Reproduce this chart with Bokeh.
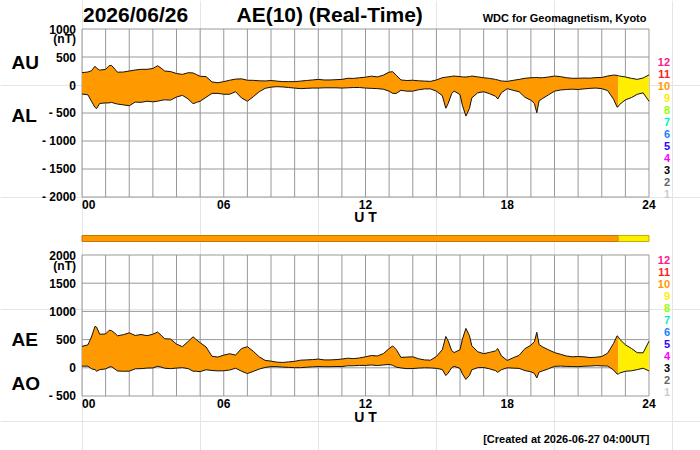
from bokeh.plotting import figure
from bokeh.models import Range1d, Label
from bokeh.core.properties import value
from bokeh.embed import file_html
from bokeh.resources import INLINE

# ---------------- data ----------------
ut_hours = [0.00, 0.25, 0.40, 0.55, 0.62, 0.75, 1.00, 1.15, 1.25, 1.40, 1.50, 1.75,
            2.00, 2.25, 2.50, 2.75, 3.00, 3.20, 3.35, 3.50, 3.75, 4.00, 4.25, 4.50,
            4.70, 4.85, 5.00, 5.25, 5.50, 5.75, 6.00, 6.25, 6.50, 6.75, 7.00, 7.25,
            7.50, 7.75, 8.00, 8.25, 8.50, 8.75, 9.00, 9.25, 9.50, 9.75, 10.00, 10.25,
            10.50, 10.75, 11.00, 11.25, 11.50, 11.75, 12.00, 12.25, 12.50, 12.75, 13.00, 13.15,
            13.30, 13.50, 13.75, 14.00, 14.25, 14.50, 14.75, 15.00, 15.25, 15.40, 15.50, 15.65,
            15.75, 16.00, 16.10, 16.25, 16.40, 16.50, 16.75, 17.00, 17.25, 17.50, 17.60, 17.75,
            18.00, 18.25, 18.50, 18.75, 19.00, 19.15, 19.25, 19.35, 19.50, 19.75, 20.00, 20.25,
            20.50, 20.75, 21.00, 21.25, 21.50, 21.75, 22.00, 22.25, 22.50, 22.65, 22.70, 22.75,
            23.00, 23.25, 23.50, 23.75, 24.00]

au_nt = [220, 232, 255, 335, 300, 265, 280, 345, 350, 280, 228, 232,
         250, 268, 280, 280, 295, 345, 300, 250, 240, 205, 190, 220,
         215, 185, 155, 150, 55, 40, 60, 85, 105, 110, 85, 83,
         75, 72, 80, 70, 60, 60, 60, 70, 80, 90, 100, 90,
         90, 95, 100, 120, 118, 130, 140, 158, 145, 175, 230, 238,
         175, 90, 80, 85, 75, 70, 65, 90, 130, 140, 145, 155,
         160, 150, 145, 143, 150, 160, 145, 130, 118, 100, 90, 72,
         65, 83, 100, 120, 130, 132, 135, 130, 130, 143, 160, 150,
         130, 120, 120, 125, 122, 132, 135, 160, 178, 172, 165, 160,
         143, 119, 101, 125, 180]

al_nt = [-160, -175, -290, -400, -420, -330, -320, -320, -310, -330, -340, -355,
         -370, -305, -310, -290, -300, -290, -275, -265, -270, -215, -185, -250,
         -335, -310, -290, -220, -150, -150, -165, -165, -120, -230, -290, -210,
         -120, -60, -38, -30, -35, -45, -55, -65, -60, -55, -55, -50,
         -50, -50, -55, -50, -45, -45, -55, -60, -65, -75, -110, -150,
         -150, -95, -110, -110, -85, -70, -70, -110, -190, -415, -330, -150,
         -110, -170, -360, -555, -420, -230, -140, -120, -155, -200, -250, -140,
         -65, -95, -120, -220, -270, -330, -495, -280, -240, -175, -110, -90,
         -80, -75, -80, -70, -60, -55, -65, -100, -255, -395, -385, -350,
         -265, -226, -167, -140, -290]

# number of contributing stations per time segment
seg_start = [0.0, 22.7]
seg_end = [22.7, 24.0]
seg_stations = [10, 9]

station_numbers = [12, 11, 10, 9, 8, 7, 6, 5, 4, 3, 2, 1]
station_colors = {12: "#ff1a8c", 11: "#ff2020", 10: "#ff9900", 9: "#ffee00",
                  8: "#99ff00", 7: "#00f0c0", 6: "#1a80ff", 5: "#3300ff",
                  4: "#ff00ff", 3: "#000000", 2: "#666666", 1: "#cccccc"}
station_border = {10: "#c77700", 9: "#c0b000"}

top_ticks = [1000, 500, 0, -500, -1000, -1500, -2000]
top_tick_labels = ["1000", "500", "0", "- 500", "- 1000", "- 1500", "- 2000"]
bot_ticks = [2000, 1500, 1000, 500, 0, -500]
bot_tick_labels = ["2000", "1500", "1000", "500", "0", "- 500"]
x_ticks = [0, 6, 12, 18, 24]
x_tick_labels = ["00", "06", "12", "18", "24"]
x_tick_align = ["left", "center", "center", "center", "center"]
hour_grid = list(range(25))

title_date = "2026/06/26"
title_main = "AE(10) (Real-Time)"
credit = "WDC for Geomagnetism, Kyoto"
created = "[Created at 2026-06-27 04:00UT]"

ae_nt = [u - l for u, l in zip(au_nt, al_nt)]
ao_nt = [(u + l) / 2 for u, l in zip(au_nt, al_nt)]

# ---------------- page geometry (pixel -> data helpers) ----------------
FONT = "Liberation Sans"
GRID = "#999999"
W, H = 700, 450

def hx(X):            # page x pixel -> UT hours
    return (X - 81.5) * 24 / 567

def vt(Y):            # page y pixel -> top panel nT
    return 1000 - (Y - 28.5) * 3000 / 168

def vb(Y):            # page y pixel -> bottom panel nT
    return 2000 - (Y - 254.5) * 2500 / 141

def vs(Y):            # page y pixel -> station bar units
    return (241 - Y) / 6

p = figure(width=W, height=H, output_backend="svg", toolbar_location=None,
           title=None,
           x_range=Range1d(hx(0), hx(W)), y_range=Range1d(vt(H), vt(0)),
           x_axis_location=None, y_axis_location=None, min_border=0,
           outline_line_color=None, background_fill_color="white",
           border_fill_color="white")
p.extra_y_ranges = {"bot": Range1d(vb(H), vb(0)), "strip": Range1d(vs(H), vs(0))}

def panel(ticks, labels, lo, hi, rname):
    kw = {} if rname is None else {"y_range_name": rname}
    ymin, ymax = min(ticks), max(ticks)
    # grid
    p.segment(x0=hour_grid, y0=ymin, x1=hour_grid, y1=ymax,
              line_color=GRID, line_width=1, **kw)
    p.segment(x0=0, y0=ticks, x1=24, y1=ticks, line_color=GRID, line_width=1, **kw)
    # band coloured by station count
    for s0, s1, n in zip(seg_start, seg_end, seg_stations):
        idx = [i for i, t in enumerate(ut_hours) if s0 <= t <= s1]
        p.varea(x=[ut_hours[i] for i in idx], y1=[lo[i] for i in idx],
                y2=[hi[i] for i in idx], fill_color=station_colors[n], **kw)
    p.line(ut_hours, hi, line_color="#111111", line_width=1, **kw)
    p.line(ut_hours, lo, line_color="#111111", line_width=1, **kw)
    # y tick labels
    p.text(x=hx(75.5), y=ticks, text=labels, text_align="right",
           text_baseline="middle",
           text_font=value(FONT), text_font_style="bold",
           text_font_size="12px", text_color="black", **kw)
    # x tick labels
    p.text(x=x_ticks, y=ymin, text=x_tick_labels, text_align=x_tick_align,
           text_baseline="middle", y_offset=7.3,
           text_font=value(FONT), text_font_style="bold",
           text_font_size="12px", text_color="black", **kw)

panel(top_ticks, top_tick_labels, al_nt, au_nt, None)
panel(bot_ticks, bot_tick_labels, ao_nt, ae_nt, "bot")

# station bar between panels
p.quad(left=seg_start, right=seg_end, bottom=0, top=1, y_range_name="strip",
       fill_color=[station_colors[n] for n in seg_stations],
       line_color=[station_border[n] for n in seg_stations], line_width=1)

def lab(X, Y, text, size, align="left", color="black"):
    p.add_layout(Label(x=hx(X), y=vt(Y), text=text, text_font=FONT,
                       text_font_style="bold", text_font_size=size,
                       text_color=color, text_align=align,
                       text_baseline="middle"))

lab(82.5, 14.3, title_date, "21px")
lab(236, 14.3, title_main, "21px")
lab(646, 17.4, credit, "11px", align="right")
lab(11, 61.7, "AU", "19px")
lab(11, 115, "AL", "19px")
lab(11, 339.2, "AE", "19px")
lab(11, 382.5, "AO", "19px")
lab(75.5, 38.2, "(nT)", "12px", align="right")
lab(75.5, 265.5, "(nT)", "12px", align="right")
lab(365, 216.7, "U T", "14px", align="center")
lab(365, 416, "U T", "14px", align="center")
lab(649, 438.5, created, "11px", align="right")
for i, n in enumerate(station_numbers):
    lab(669.5, 61 + 12 * i, str(n), "11px", align="right", color=station_colors[n])
    lab(669.5, 259 + 12 * i, str(n), "11px", align="right", color=station_colors[n])

open("out.html", "w").write(file_html(p, INLINE))
